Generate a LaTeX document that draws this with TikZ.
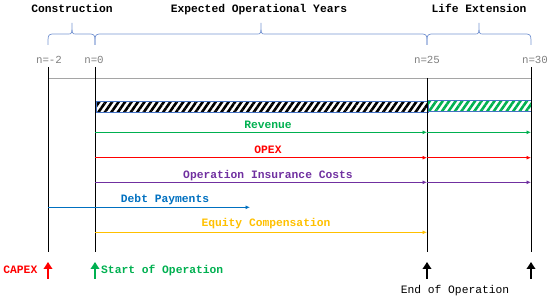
\documentclass[tikz,border=0pt]{standalone}
\usepackage{fontspec}
\setmainfont{Liberation Mono}
\usetikzlibrary{arrows.meta,patterns.meta}
\definecolor{cgreen}{RGB}{0,176,80}
\definecolor{cred}{RGB}{255,0,0}
\definecolor{cpurple}{RGB}{112,48,160}
\definecolor{cblue}{RGB}{0,112,192}
\definecolor{cgold}{RGB}{255,192,0}
\definecolor{cbrace}{RGB}{120,150,210}
\definecolor{cgraytxt}{RGB}{128,128,128}
\definecolor{cgrayline}{RGB}{165,165,165}
\definecolor{cbarborder}{RGB}{68,114,196}
\newcommand\mybrace[3]{%
  \draw[bracestyle] (#1,45) .. controls (#1,35) .. (#1+4,34) -- (#3-4,34)
    .. controls (#3,34) .. (#3,23) .. controls (#3,34) .. (#3+4,34)
    -- (#2-4,34) .. controls (#2,35) .. (#2,45);}
\begin{document}
\begin{tikzpicture}[x=1pt,y=-1pt,
  every node/.style={inner sep=0pt, anchor=base},
  txt/.style={font=\fontsize{11.3}{13}\selectfont},
  btxt/.style={font=\fontsize{11.3}{13}\selectfont\bfseries},
  ntxt/.style={font=\fontsize{10.8}{13}\selectfont, text=cgraytxt},
  tline/.style={black, line width=1pt},
  bracestyle/.style={cbrace, line width=0.7pt},
  flow/.style={line width=0.9pt, -{Latex[length=4.5pt,width=4pt]}},
  bigarrow/.style={line width=2.8pt, -{Triangle[length=7pt,width=8.5pt]}},
  hatch/.style={draw=cbarborder, line width=0.7pt, minimum height=11pt, anchor=north west,
    pattern={Lines[angle=55,distance=5.3pt,line width=2.6pt]}}]
\useasboundingbox (0,0) rectangle (550,299);

% time coordinates
\coordinate (tA) at (48,67);  \coordinate (tAb) at (48,252);
\coordinate (tB) at (95,67);  \coordinate (tBb) at (95,252);
\coordinate (tC) at (427,78); \coordinate (tCb) at (427,252);
\coordinate (tD) at (531,67); \coordinate (tDb) at (531,252);
\coordinate (gL) at (48,78);  \coordinate (gR) at (531,78);

% headings
\node[btxt] (hc) at (72,13) {Construction};
\node[btxt] (he) at (259,13) {Expected Operational Years};
\node[btxt] (hl) at (479,13) {Life Extension};

% braces
\mybrace{48}{95}{72}
\mybrace{95}{427}{261}
\mybrace{427}{531}{479}

% n labels
\node[ntxt] (nA) at (49,64) {n=-2};
\node[ntxt] (nB) at (94,64) {n=0};
\node[ntxt] (nC) at (427,64) {n=25};
\node[ntxt] (nD) at (535,64) {n=30};

% gray line
\draw[cgrayline, line width=0.8pt] (gL) -- (gR);

% hatched bar
\node[hatch, minimum width=332pt, pattern color=black] (barA) at (95,100) {};
\node[hatch, minimum width=104pt, pattern color=cgreen] (barB) at (427,100) {};

% vertical lines
\draw[tline] (tA) -- (tAb);
\draw[tline] (tB) -- (tBb);
\draw[tline] (tC) -- (tCb);
\draw[tline] (tD) -- (tDb);

% flows
\coordinate (r0) at (95,132.3); \coordinate (r1) at (427,132.3); \coordinate (r2) at (531,132.3);
\draw[flow, cgreen] (r0) -- (r1); \draw[flow, cgreen] (r1) -- (r2);
\node[btxt, text=cgreen] (lrev) at (268,129) {Revenue};

\coordinate (o0) at (95,157.7); \coordinate (o1) at (427,157.7); \coordinate (o2) at (531,157.7);
\draw[flow, cred] (o0) -- (o1); \draw[flow, cred] (o1) -- (o2);
\node[btxt, text=cred] (lopex) at (268,153.5) {OPEX};

\coordinate (i0) at (95,182.3); \coordinate (i1) at (427,182.3); \coordinate (i2) at (531,182.3);
\draw[flow, cpurple] (i0) -- (i1); \draw[flow, cpurple] (i1) -- (i2);
\node[btxt, text=cpurple] (lins) at (268,178.5) {Operation Insurance Costs};

\coordinate (d0) at (48,207.3); \coordinate (d1) at (250,207.3);
\draw[flow, cblue] (d0) -- (d1);
\node[btxt, text=cblue] (ldebt) at (165,202.5) {Debt Payments};

\coordinate (e0) at (95,232.3); \coordinate (e1) at (427,232.3);
\draw[flow, cgold] (e0) -- (e1);
\node[btxt, text=cgold] (leq) at (266,227) {Equity Compensation};

% bottom arrows
\coordinate (aA0) at (48,279); \coordinate (aA1) at (48,262);
\coordinate (aB0) at (95,279); \coordinate (aB1) at (95,262);
\coordinate (aC0) at (427,279); \coordinate (aC1) at (427,262);
\coordinate (aD0) at (531,279); \coordinate (aD1) at (531,262);
\draw[bigarrow, cred] (aA0) -- (aA1);
\draw[bigarrow, cgreen] (aB0) -- (aB1);
\draw[bigarrow, black] (aC0) -- (aC1);
\draw[bigarrow, black] (aD0) -- (aD1);

\node[btxt, text=cred, anchor=base east] (lcapex) at (37.5,274) {CAPEX};
\node[btxt, text=cgreen, anchor=base west] (lstart) at (101,274) {Start of Operation};
\node[txt, text=black] (lend) at (455,294) {End of Operation};
\end{tikzpicture}
\end{document}
